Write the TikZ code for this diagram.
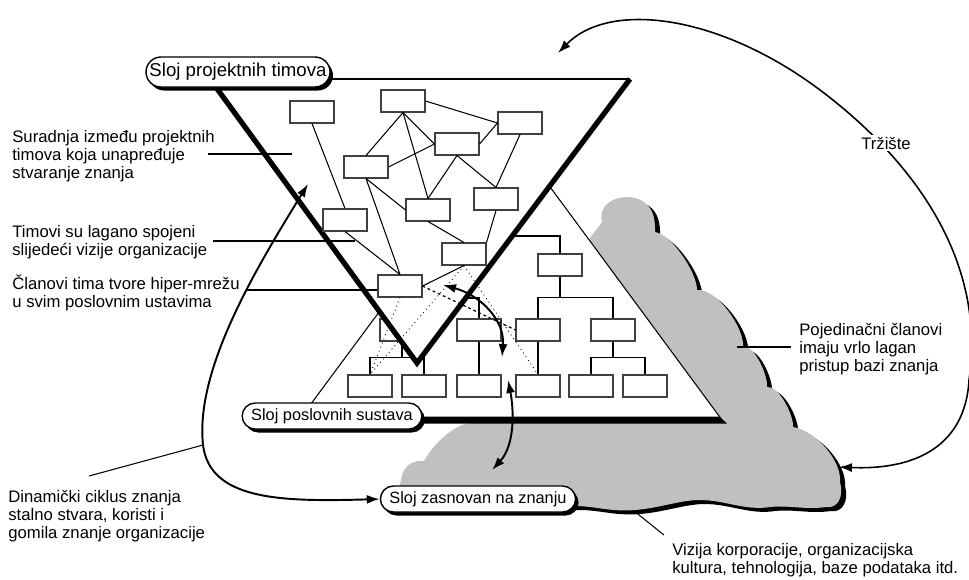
\documentclass[tikz,border=0pt]{standalone}
\usepackage{fontspec}
\setmainfont{Liberation Sans}
\usetikzlibrary{arrows.meta,shadows}

\definecolor{oblaksiva}{RGB}{192,192,192}

\newcommand{\tekst}{\fontsize{9.5pt}{10.4pt}\selectfont}

\tikzset{
  kutija/.style={draw=black!75,fill=white,line width=0.6pt,
    minimum width=0.88cm,minimum height=0.44cm,inner sep=0pt},
  sloj/.style={draw,fill=white,line width=0.8pt,rounded corners=0.26cm,
    minimum height=0.52cm,inner xsep=0.18cm,inner ysep=0pt,
    font=\fontsize{9.3pt}{11pt}\selectfont,
    drop shadow={shadow xshift=0.06cm,shadow yshift=-0.07cm,
      fill=black,opacity=1}},
  opis/.style={font=\tekst,align=left,inner sep=0pt,anchor=west},
  veza/.style={line width=0.6pt},
  tockice/.style={line width=0.5pt,dotted},
  crtice/.style={line width=0.7pt,dash pattern=on 1.6pt off 1.6pt},
  strelica/.style={line width=1.1pt,
    {Latex[length=0.26cm,width=0.18cm]}-{Latex[length=0.26cm,width=0.18cm]}}
}

\newcommand{\oblak}[1]{
  \path[#1] (395,506) -- (401,480)
    .. controls (403,466) and (412,460) .. (424,461)
    .. controls (430,450) and (445,432) .. (462,425)
    -- (500,415) -- (583,255) -- (590,238) -- (602,222)
    .. controls (598,206) and (612,197) .. (628,197)
    .. controls (645,198) and (656,208) .. (655,232)
    .. controls +(16,2) and +(0,-18) .. (697,290)
    .. controls +(20,-2) and +(2,-18) .. (743,347)
    .. controls +(12,-2) and +(1,-11) .. (767,387)
    .. controls +(12,-2) and +(1,-11) .. (793,427)
    .. controls +(24,4) and +(2,-20) .. (840,482)
    .. controls +(4,14) and +(12,2) .. (826,507)
    .. controls (805,510) and (790,505) .. (770,507)
    .. controls (745,511) and (725,500) .. (700,500)
    .. controls (680,500) and (660,508) .. (635,510)
    .. controls (610,512) and (595,506) .. (575,506)
    -- cycle;
}

\begin{document}
\begin{tikzpicture}[x=0.02cm,y=-0.02cm]
    \useasboundingbox (0,0) rectangle (969,579);

    \oblak{fill=black,shift={(5,4)}}
    \oblak{fill=oblaksiva}

    \coordinate (dv) at (511,134);
    \coordinate (dl) at (299,420);
    \coordinate (dd) at (722,420);

    \fill [white] (dv) -- (dl) -- (dd) -- cycle;
    \draw [veza] (dl) -- (dv) -- (dd);
    \fill (299,416.5) -- (719,416.5) -- (727,423.5) -- (299,423.5) -- cycle;

    \node [kutija] (b) at (560,265) {};
    \node [kutija] (m0) at (402,330) {};
    \node [kutija] (m1) at (479,330) {};
    \node [kutija] (m2) at (538,330) {};
    \node [kutija] (m3) at (613,330) {};
    \node [kutija] (d1) at (370,386) {};
    \node [kutija] (d2) at (424,386) {};
    \node [kutija] (d3) at (479,386) {};
    \node [kutija] (d4) at (538,386) {};
    \node [kutija] (d5) at (591,386) {};
    \node [kutija] (d6) at (645,386) {};

    \coordinate (gb) at (500,236);
    \coordinate (ga) at (440,298);

    \draw [veza] (b.north) |- (gb);
    \draw [veza] (m1.north) |- (ga);
    \draw [veza] (b.south) -- ++(0,21) coordinate (gm) -| (m2.north) (gm) -| (m3.north);
    \draw [veza] (m0.south) -- ++(0,16) coordinate (g0) -| (d1.north) (g0) -| (d2.north);
    \draw [veza] (m1) -- (d3);
    \draw [veza] (m2) -- (d4);
    \draw [veza] (m3.south) -- ++(0,16) coordinate (g3) -| (d5.north) (g3) -| (d6.north);

    \coordinate (gl) at (210,79);
    \coordinate (gd) at (630,79);
    \coordinate (gv) at (417,363);

    \fill [white] (gl) -- (gd) -- (gv) -- cycle;
    \draw [line width=1.4pt] (gl) -- (gd);
    \draw [line width=3pt,line join=miter] (gl) -- (gv) -- (gd);

    \node [kutija] (u1) at (403,101) {};
    \node [kutija] (u2) at (312,112) {};
    \node [kutija] (u3) at (520,123) {};
    \node [kutija] (u4) at (457,144) {};
    \node [kutija] (u5) at (366,167) {};
    \node [kutija] (u6) at (428,210) {};
    \node [kutija] (u7) at (496,199) {};
    \node [kutija] (u8) at (345,220) {};
    \node [kutija] (u9) at (464,254) {};
    \node [kutija] (u10) at (400,286) {};

    \draw [veza] (u1.east) -- (u3.west);
    \draw [veza] (u1.south) -- (u5.north);
    \draw [veza] (u1.south) -- (u6.north);
    \draw [veza] (u1.south) -- (u4.west);
    \draw [veza] (u5.east) -- (u4.west);
    \draw [veza] (u4.east) -- (u3.west);
    \draw [veza] (u4.south) -- (u6.north);
    \draw [veza] (u4.south) -- (u7.north);
    \draw [veza] (u3.south) -- (u7.north);
    \draw [veza] (u2.south) -- (u8.north);
    \draw [veza] (u5.south) -- (u6.west);
    \draw [veza] (u5.south) -- (u10.north);
    \draw [veza] (u6.south) -- (u9.north);
    \draw [veza] (u7.south) -- (u9.north east);
    \draw [veza] (u8.south) -- (u10.north);
    \draw [veza] (u10.east) -- (u9.south);

    \draw [tockice] (u10.south) -- (d1.north);
    \draw [tockice] (u9.south) -- (d1.north);
    \draw [tockice] (u9.south) -- (d4.north);
    \draw [crtice] (u10.east) -- (m2.west);

    \node [sloj,font=\fontsize{10.6pt}{12pt}\selectfont,minimum height=0.6cm,
    inner xsep=0.07cm,rounded corners=0.3cm] (pt) at (238,72) {Sloj projektnih timova};
    \node [sloj] (ps) at (332,416) {Sloj poslovnih sustava};
    \node [sloj] (zk) at (478,499) {Sloj zasnovan na znanju};

    \coordinate (s1) at (443,285);
    \coordinate (s2) at (502,357);
    \coordinate (s3) at (508,380);
    \coordinate (s4) at (492,470);
    \coordinate (c1) at (308,184);
    \coordinate (c2) at (203,445);
    \coordinate (t1) at (558,53);
    \coordinate (t2) at (839,467);

    \draw [strelica] (s1) .. controls (480,295) and (505,320) .. (s2);
    \draw [strelica] (s3) .. controls (514,410) and (515,445) .. (s4);
    \draw [strelica] (c1) .. controls (255,270) and (195,370) .. (c2)
    .. controls (210,500) and (280,502) .. (zk.west);
    \draw [strelica,line width=0.9pt] (t1) .. controls (610,0) and (720,15) .. (820,90)
    .. controls (900,150) and (988,250) .. (969,380)
    .. controls (965,450) and (910,470) .. (t2);
    \node [font=\tekst,fill=white,inner sep=1pt] (trz) at (886,143) {Tržište};

    \node [opis] (sur) at (12,156) {Suradnja između projektnih\\timova koja unapređuje\\stvaranje znanja};
    \node [opis] (tim) at (12,242) {Timovi su lagano spojeni\\slijedeći vizije organizacije};
    \node [opis] (cla) at (12,293) {Članovi tima tvore hiper-mrežu\\u svim poslovnim ustavima};
    \node [opis] (din) at (8,516) {Dinamički ciklus znanja\\stalno stvara, koristi i\\gomila znanje organizacije};
    \node [opis] (poj) at (799,349) {Pojedinačni članovi\\imaju vrlo lagan\\pristup bazi znanja};
    \node [opis] (viz) at (672,560) {Vizija korporacije, organizacijska\\kultura, tehnologija, baze podataka itd.};

    \coordinate (a1) at (208,154);
    \coordinate (a2) at (292,154);
    \coordinate (a3) at (213,241);
    \coordinate (a4) at (355,241);
    \coordinate (a5) at (246,290);
    \coordinate (a6) at (89,476);
    \coordinate (a7) at (737,347);
    \coordinate (a8) at (791,347);
    \coordinate (a9) at (664,535);
    \coordinate (a10) at (634,511);

    \draw [veza] (a1) -- (a2);
    \draw [veza] (a3) -- (a4);
    \draw [veza] (a5) -- (a5 -| u10.west);
    \draw [veza] (a6) -- (c2);
    \draw [veza] (a7) -- (a8);
    \draw [veza] (a9) -- (a10);
\end{tikzpicture}
\end{document}
